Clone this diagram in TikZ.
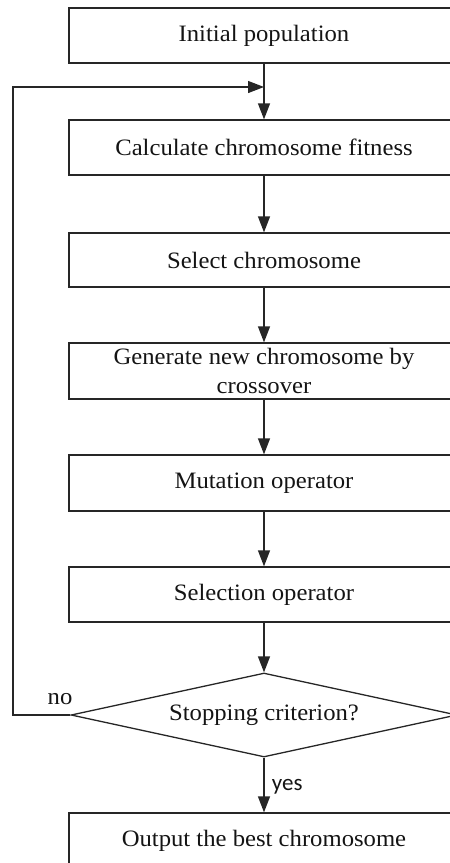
\documentclass[tikz,border=0pt]{standalone}
\usepackage{fontspec}
\setmainfont{Liberation Serif}[FakeStretch=1.05]
\newfontfamily\yesfont{Carlito}
\usetikzlibrary{shapes.geometric,arrows.meta}
\begin{document}
\begin{tikzpicture}[x=1pt,y=-1pt,
  every node/.style={font=\fontsize{23.5}{29.5}\selectfont, text=black!92},
  box/.style={draw=black!85, line width=1.3pt, minimum width=390pt, inner sep=0pt, align=center},
  decision/.style={draw=black!85, line width=1.3pt, shape=diamond, aspect=4.6, inner sep=0pt, minimum width=386pt, minimum height=84pt},
  link/.style={draw=black!85, line width=1.3pt, -{Triangle[length=16pt,width=12pt]}}]
\useasboundingbox (0,0) rectangle (450,863);
\clip (0,0) rectangle (450,863);
\node[box, minimum height=55pt] (init) at (264,35.5) {Initial population};
\node[box, minimum height=55pt] (fit) at (264,147.5) {Calculate chromosome fitness};
\node[box, minimum height=54pt] (sel) at (264,260) {Select chromosome};
\node[box, minimum height=56pt] (gen) at (264,371) {Generate new chromosome by\\crossover};
\node[box, minimum height=56pt] (mut) at (264,483) {Mutation operator};
\node[box, minimum height=55pt] (selop) at (264,594.5) {Selection operator};
\node[decision] (stop) at (264,715) {Stopping criterion?};
\node[box, minimum height=55pt] (out) at (264,840.5) {Output the best chromosome};
\coordinate (join) at (264,87);
\coordinate (corner) at (13,87);
\draw[link] (init) -- (fit);
\draw[link] (fit) -- (sel);
\draw[link] (sel) -- (gen);
\draw[link] (gen) -- (mut);
\draw[link] (mut) -- (selop);
\draw[link] (selop) -- (stop);
\draw[link] (stop) -- node[right, xshift=4pt, yshift=-2pt, font=\yesfont\fontsize{23}{27}\selectfont] (yes) {yes} (out);
\draw[link] (stop.west) -| (corner) -- (join);
\node (no) at (60,699) {no};
\end{tikzpicture}
\end{document}
